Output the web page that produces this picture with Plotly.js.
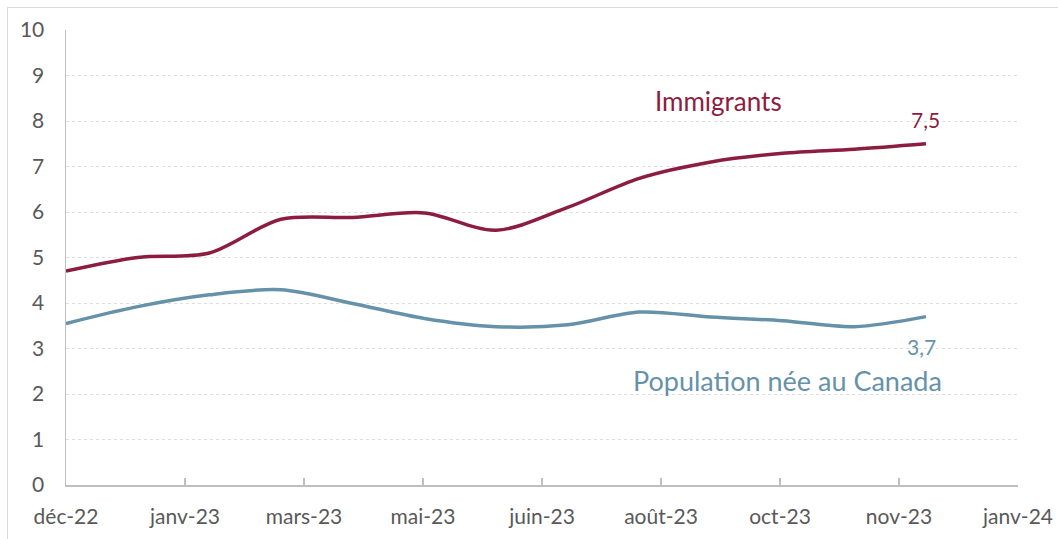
<!DOCTYPE html>
<html>
<head>
<meta charset="utf-8">
<script src="https://cdn.plot.ly/plotly-3.0.1.min.js"></script>
<style>
  html, body { margin: 0; padding: 0; background: #fff; overflow: hidden; }
  #chart { width: 1058px; height: 539px; }
  #frame { position: absolute; left: 7px; top: 7px; width: 1200px; height: 700px;
           border: 1px solid #d9d9d9; pointer-events: none; }
</style>
</head>
<body>
<div id="chart"></div>
<div id="frame"></div>
<script>
// Monthly data, déc-22 to déc-23 (month index 0..12)
const months = [0, 1, 2, 3, 4, 5, 6, 7, 8, 9, 10, 11, 12];
const immigrants = [4.7, 5.0, 5.1, 5.84, 5.88, 5.98, 5.6, 6.1, 6.74, 7.1, 7.29, 7.38, 7.5];
const canadaBorn = [3.55, 3.92, 4.18, 4.29, 3.99, 3.66, 3.48, 3.52, 3.8, 3.69, 3.61, 3.48, 3.7];
const tickLabels = ['déc-22', 'janv-23', 'mars-23', 'mai-23', 'juin-23', 'août-23', 'oct-23', 'nov-23', 'janv-24'];
const yTicks = [0, 1, 2, 3, 4, 5, 6, 7, 8, 9, 10];

const immColor = '#8C1D40';
const canColor = '#6592A9';
const font = 'Lato, "Open Sans", sans-serif';

const xMax = 13.284;
const tickVals = tickLabels.map((_, i) => xMax * i / (tickLabels.length - 1));

const traces = [
  { x: months, y: immigrants, type: 'scatter', mode: 'lines', name: 'Immigrants',
    line: { color: immColor, width: 3.5, shape: 'spline', smoothing: 0.9 }, hoverinfo: 'skip' },
  { x: months, y: canadaBorn, type: 'scatter', mode: 'lines', name: 'Population née au Canada',
    line: { color: canColor, width: 3.5, shape: 'spline', smoothing: 0.9 }, hoverinfo: 'skip' }
];

const last = months.length - 1;
const fmt = v => v.toFixed(1).replace('.', ',');

const layout = {
  width: 1058, height: 539,
  margin: { l: 66, r: 40, t: 30, b: 54 },
  paper_bgcolor: '#fff', plot_bgcolor: '#fff',
  showlegend: false,
  font: { family: font, color: '#595959', size: 21 },
  xaxis: {
    range: [0, xMax], tickmode: 'array', tickvals: tickVals, ticktext: tickLabels,
    showgrid: false, zeroline: false, showline: true, linecolor: '#bfbfbf', linewidth: 1.5,
    ticks: 'inside', ticklen: 7, tickcolor: '#bfbfbf', tickwidth: 1.5,
    ticklabelstandoff: 12, tickfont: { family: font, size: 21, color: '#595959' }
  },
  yaxis: {
    range: [0, 10], tickmode: 'array', tickvals: yTicks,
    showgrid: true, gridcolor: '#dedede', griddash: 'dot', gridwidth: 1,
    zeroline: false, showline: true, linecolor: '#bfbfbf', linewidth: 1.5,
    ticks: '', ticklabelstandoff: 16, tickfont: { family: font, size: 21, color: '#595959' }
  },
  annotations: [
    { x: months[last], y: immigrants[last], xref: 'x', yref: 'y', text: fmt(immigrants[last]),
      showarrow: false, yshift: 24, font: { family: font, size: 21, color: immColor } },
    { x: months[last], y: canadaBorn[last], xref: 'x', yref: 'y', text: fmt(canadaBorn[last]),
      showarrow: false, yshift: -30, xshift: -4, font: { family: font, size: 21, color: canColor } },
    { x: 9.11, y: 8.45, xref: 'x', yref: 'y', text: 'Immigrants',
      showarrow: false, font: { family: font, size: 26, color: immColor } },
    { x: 10.07, y: 2.29, xref: 'x', yref: 'y', text: 'Population née au Canada',
      showarrow: false, font: { family: font, size: 27, color: canColor } }
  ]
};

Plotly.newPlot('chart', traces, layout, { staticPlot: true, displayModeBar: false });
</script>
</body>
</html>
